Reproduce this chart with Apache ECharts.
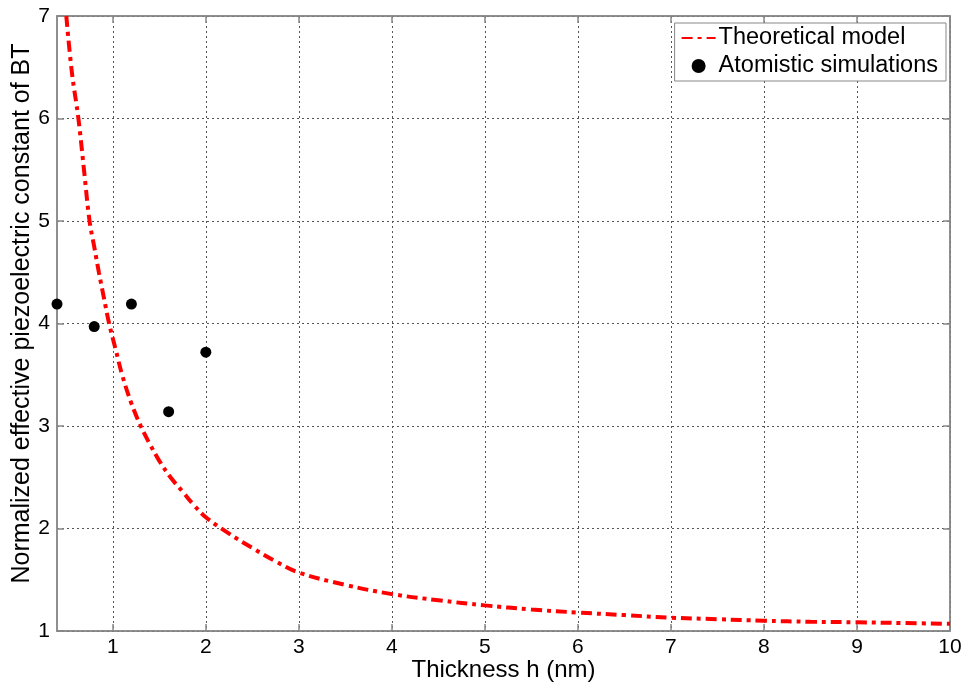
<!DOCTYPE html>
<html>
<head>
<meta charset="utf-8">
<script src="https://cdn.jsdelivr.net/npm/echarts@6/dist/echarts.min.js"></script>
<style>html,body{margin:0;padding:0;background:#fff}#c{width:967px;height:685px}</style>
</head>
<body>
<div id="c"></div>
<script>
// Theoretical model curve
const modelH = [0.50,0.56,0.63,0.69,0.75,0.80,0.85,0.90,0.96,1.03,1.10,1.20,1.30,1.40,1.50,1.62,1.75,1.87,2.00,2.25,2.50,2.75,3.00,3.50,4.00,4.50,5.00,5.50,6.00,6.50,7.00,7.50,8.00,8.50,9.00,9.50,10.00];
const modelV = [7.00,6.45,6.00,5.50,5.00,4.75,4.50,4.27,4.00,3.75,3.50,3.22,3.00,2.82,2.66,2.50,2.36,2.23,2.11,1.95,1.81,1.68,1.57,1.45,1.36,1.30,1.25,1.21,1.18,1.155,1.13,1.115,1.10,1.09,1.085,1.078,1.07];
// Atomistic simulations
const simH = [0.4,0.8,1.2,1.6,2.0];
const simV = [4.19,3.97,4.19,3.14,3.72];
// Tick values
const xTicks = [1,2,3,4,5,6,7,8,9,10];
const yTicks = [1,2,3,4,5,6,7];

const font = '"Liberation Sans", Arial, sans-serif';
const chart = echarts.init(document.getElementById('c'), null, {renderer:'canvas'});
const gridLine = {show:true, lineStyle:{color:'#555', width:1, type:[2,3]}};
chart.setOption({
  animation:false,
  backgroundColor:'#fff',
  grid:{left:57, right:17, top:16, bottom:54, outerBoundsMode:'none', containLabel:false,
        show:true, borderColor:'#888', borderWidth:1.5, backgroundColor:'transparent'},
  legend:{
    orient:'vertical', right:21, top:23, padding:[3,8,3,6], itemGap:4,
    backgroundColor:'#fff', borderColor:'#888', borderWidth:1,
    itemWidth:34, itemHeight:14,
    textStyle:{fontFamily:font, fontSize:23.5, color:'#000', padding:[0,0,0,-2]},
    data:[{name:'Theoretical model', itemStyle:{opacity:0}},{name:'Atomistic simulations'}]
  },
  xAxis:[{
    type:'value', min:0.4, max:10,
    name:'Thickness h (nm)', nameLocation:'middle', nameGap:27, nameMoveOverlap:false,
    nameTextStyle:{fontFamily:font, fontSize:24, color:'#000'},
    axisLine:{show:true, lineStyle:{color:'#888', width:1.5}},
    axisTick:{show:true, inside:true, length:7, customValues:xTicks, lineStyle:{color:'#888', width:1.5}},
    axisLabel:{customValues:xTicks, fontFamily:font, fontSize:21, color:'#000', margin:6},
    splitLine:gridLine
  },{
    type:'value', min:0.4, max:10, position:'top',
    axisLine:{show:true, lineStyle:{color:'#888', width:1.5}},
    axisTick:{show:true, inside:true, length:7, customValues:xTicks, lineStyle:{color:'#888', width:1.5}},
    axisLabel:{show:false}, splitLine:{show:false}
  }],
  yAxis:[{
    type:'value', min:1, max:7, interval:1,
    name:'Normalized effective piezoelectric constant of BT', nameLocation:'middle', nameGap:22, nameMoveOverlap:false,
    nameTextStyle:{fontFamily:font, fontSize:25, color:'#000', padding:[0,0,0,20]},
    axisLine:{show:true, lineStyle:{color:'#888', width:1.5}},
    axisTick:{show:true, inside:true, length:7, lineStyle:{color:'#888', width:1.5}},
    axisLabel:{fontFamily:font, fontSize:21, color:'#000', margin:7},
    splitLine:gridLine
  },{
    type:'value', min:1, max:7, interval:1, position:'right',
    axisLine:{show:true, lineStyle:{color:'#888', width:1.5}},
    axisTick:{show:true, inside:true, length:7, lineStyle:{color:'#888', width:1.5}},
    axisLabel:{show:false}, splitLine:{show:false}
  }],
  series:[{
    name:'Theoretical model', type:'line', smooth:0.4, symbol:'none', showSymbol:false,
    data: modelH.map((h,i)=>[h, modelV[i]]),
    itemStyle:{color:'#ff0000'},
    lineStyle:{color:'#ff0000', width:4, type:[11,5,4,5]},
    clip:true, z:3
  },{
    name:'Atomistic simulations', type:'scatter', symbol:'circle', symbolSize:11,
    data: simH.map((h,i)=>[h, simV[i]]),
    itemStyle:{color:'#000', opacity:1}, clip:false, z:4
  }]
});
</script>
</body>
</html>
